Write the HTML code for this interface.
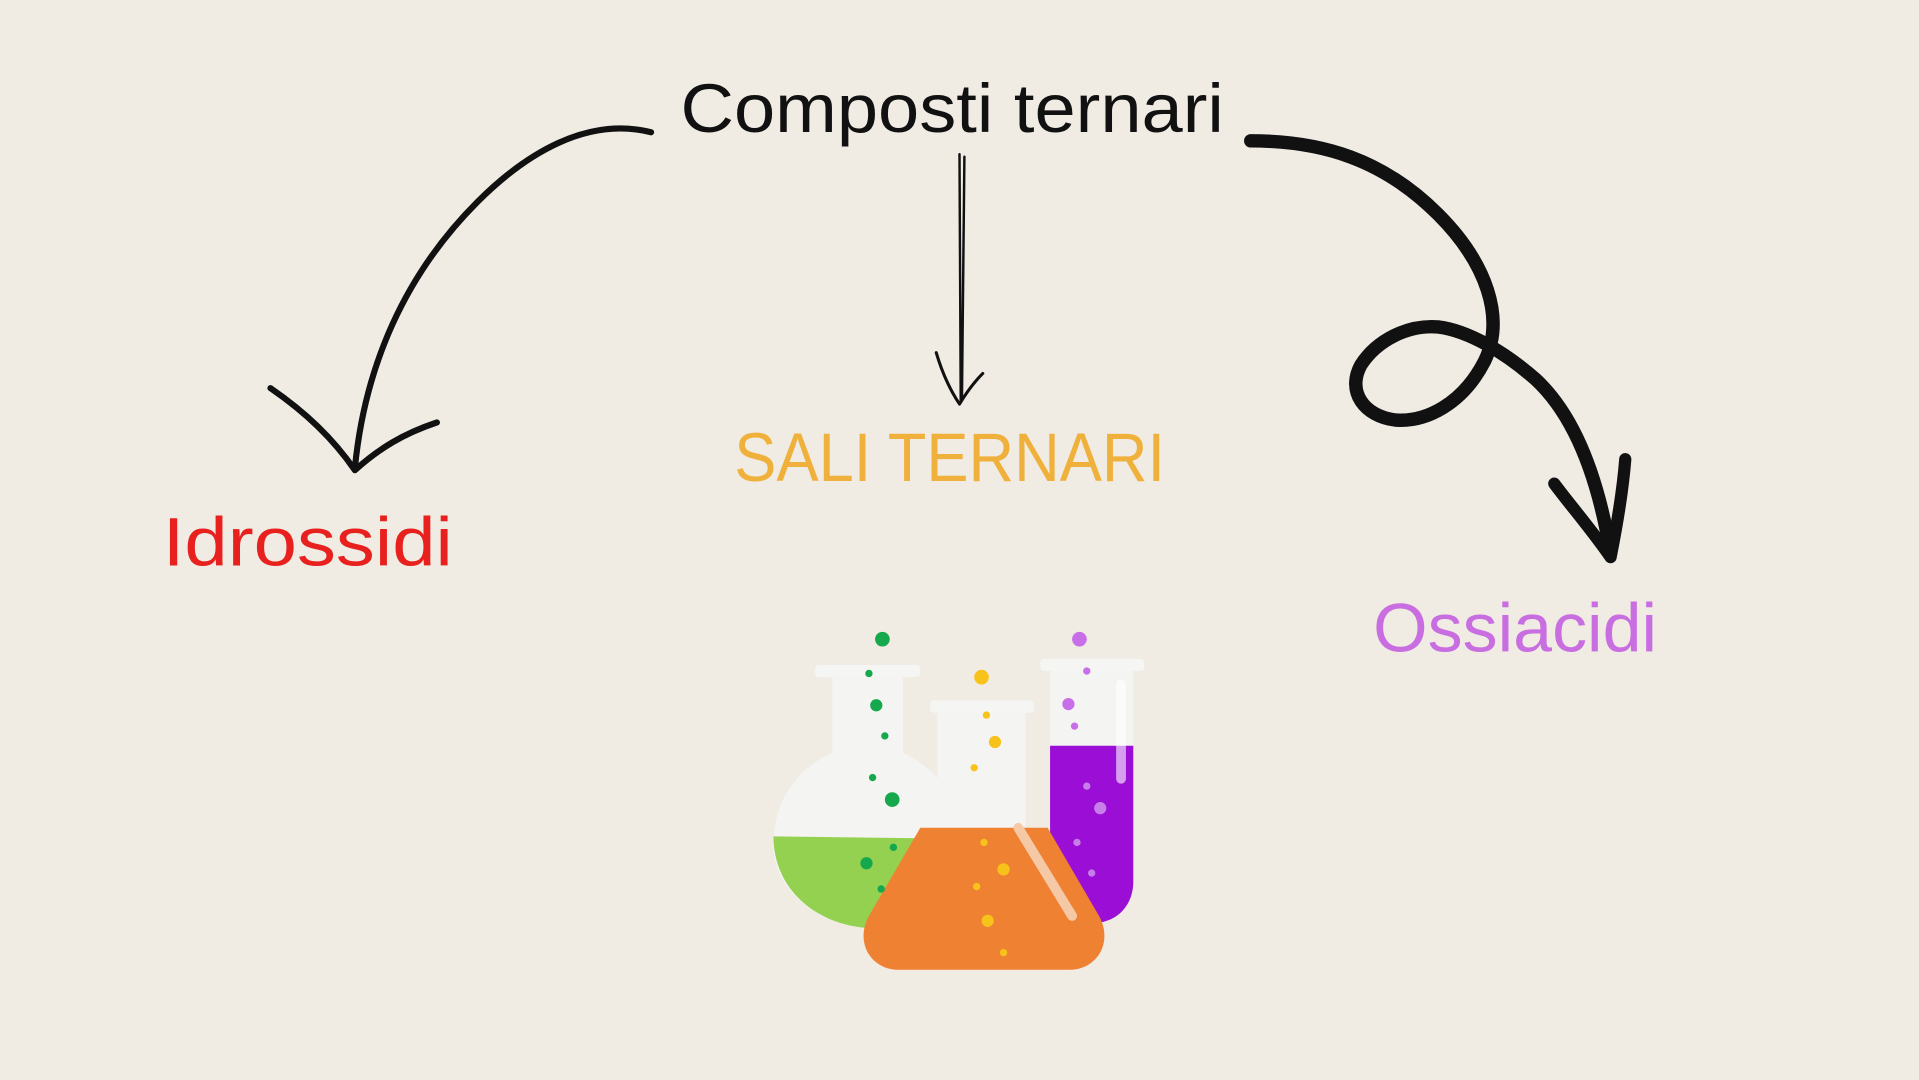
<!DOCTYPE html>
<html><head><meta charset="utf-8"><style>
html,body{margin:0;padding:0;background:#f0ebe3;}
svg{display:block}
text{font-family:"Liberation Sans",sans-serif;}
</style></head><body>
<svg width="1919" height="1080" viewBox="0 0 1568 882" preserveAspectRatio="none" xmlns="http://www.w3.org/2000/svg">
<rect width="1568" height="882" fill="#f0ebe3"/>
<text x="556" y="108" font-size="56" fill="#111" textLength="444" lengthAdjust="spacingAndGlyphs">Composti ternari</text>
<text x="600" y="393" font-size="56" fill="#efb13c" textLength="352" lengthAdjust="spacingAndGlyphs">SALI TERNARI</text>
<text x="133" y="462" font-size="56" fill="#e8201e" textLength="237" lengthAdjust="spacingAndGlyphs">Idrossidi</text>
<text x="1122" y="532" font-size="56" fill="#c86ee0" textLength="232" lengthAdjust="spacingAndGlyphs">Ossiacidi</text>
<!-- left arrow -->
<g fill="none" stroke="#111" stroke-linecap="round" stroke-linejoin="round">
<path d="M532 108 C480 95 430 125 390 165 C330 225 298 300 290 382" stroke-width="5"/>
<path d="M221 317 C250 337 272 358 290 384 C310 366 330 354 357 345" stroke-width="5"/>
<!-- middle -->
<path d="M784 126 L785 328 M788 128 L786 326" stroke-width="2"/>
<path d="M765 288 C770 305 776 318 784 330 C790 320 796 312 803 305" stroke-width="2.5"/>
<!-- right -->
<path d="M1022 115 C1080 115 1130 130 1175 175 C1215 215 1230 260 1213 295 C1195 330 1165 345 1140 343 C1115 340 1100 320 1112 298 C1125 278 1150 265 1175 267 C1200 270 1230 288 1255 310 C1285 338 1305 385 1316 452" stroke-width="11"/>
<path d="M1270 395 C1285 415 1300 432 1316 455 C1322 425 1326 400 1328 375" stroke-width="10"/>
</g>
<!-- flasks -->
<!-- round flask green -->
<rect x="666" y="543" width="86" height="10" rx="3" fill="#f5f5f3"/>
<path d="M680 553 L738 553 L738 615 C770 630 790 660 788 700 C785 740 750 760 710 758 C665 755 632 725 632 690 C632 655 650 628 680 615 Z" fill="#f4f4f2"/>
<path d="M632 683 L786 685 C786 730 752 760 710 758 C665 755 632 725 632 683 Z" fill="#94d150"/>
<!-- tube purple -->
<rect x="850" y="538" width="85" height="10" rx="3" fill="#f5f5f3"/>
<path d="M858 548 L926 548 L926 720 C926 740 912 754 892 754 C872 754 858 740 858 720 Z" fill="#f4f4f2"/>
<path d="M858 609 L926 609 L926 720 C926 740 912 754 892 754 C872 754 858 740 858 720 Z" fill="#9a0ed6"/>
<rect x="912" y="555" width="8" height="85" rx="4" fill="#fff" opacity="0.6"/>
<!-- conical flask orange -->
<rect x="760" y="572" width="85" height="10" rx="3" fill="#f5f5f3"/>
<path d="M766 582 L838 582 L838 676 L752 676 L766 660 Z" fill="#f4f4f2"/>
<path d="M752 676 L856 676 L898 748 C910 770 896 792 874 792 L734 792 C712 792 698 770 710 748 Z" fill="#ee8132"/>
<path d="M832 676 L876 748" stroke="#f6c9a6" stroke-width="8" stroke-linecap="round"/>
<!-- bubbles -->
<g fill="#16a84c">
<circle cx="721" cy="522" r="6"/><circle cx="710" cy="550" r="3"/><circle cx="716" cy="576" r="5"/><circle cx="723" cy="601" r="3"/><circle cx="713" cy="635" r="3"/><circle cx="729" cy="653" r="6"/><circle cx="730" cy="692" r="3"/><circle cx="708" cy="705" r="5"/><circle cx="720" cy="726" r="3"/>
</g>
<g fill="#f7c31b">
<circle cx="802" cy="553" r="6"/><circle cx="806" cy="584" r="3"/><circle cx="813" cy="606" r="5"/><circle cx="796" cy="627" r="3"/><circle cx="804" cy="688" r="3"/><circle cx="820" cy="710" r="5"/><circle cx="798" cy="724" r="3"/><circle cx="807" cy="752" r="5"/><circle cx="820" cy="778" r="3"/>
</g>
<g fill="#c86ee8">
<circle cx="882" cy="522" r="6"/><circle cx="888" cy="548" r="3"/><circle cx="873" cy="575" r="5"/><circle cx="878" cy="593" r="3"/>
</g>
<g fill="#c77ee8">
<circle cx="888" cy="642" r="3"/><circle cx="899" cy="660" r="5"/><circle cx="880" cy="688" r="3"/><circle cx="892" cy="713" r="3"/>
</g>
</svg>
</body></html>
